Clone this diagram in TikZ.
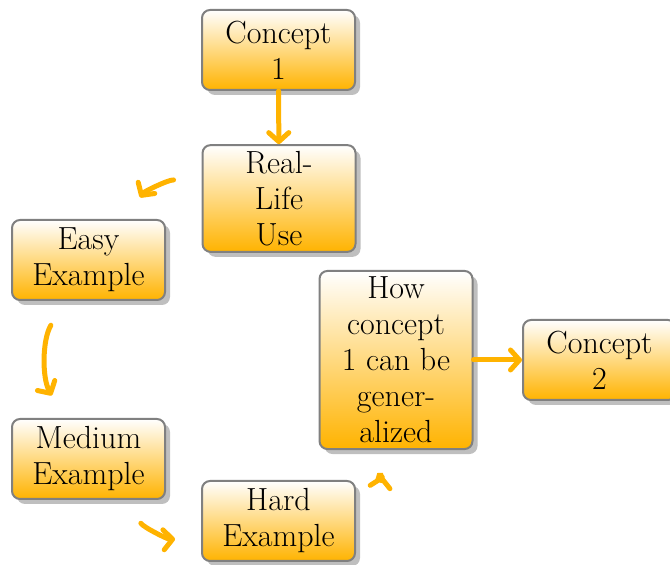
\documentclass[tikz,border=0pt]{standalone}
\usepackage{tikz}
\usetikzlibrary{arrows.meta,shadows}

\definecolor{amber}{RGB}{255,179,0}
\definecolor{boxline}{RGB}{128,128,128}

\tikzset{
  module/.style={draw=boxline, line width=1pt, rounded corners=4pt,
    top color=white, bottom color=amber, align=center,
    font=\fontsize{16}{18}\selectfont,
    minimum width=76.5pt, minimum height=40pt, inner sep=3pt,
    drop shadow={fill=black!25, opacity=1, shadow xshift=2.5pt, shadow yshift=-2.5pt}},
  flow/.style={draw=amber, line width=2.5pt, line cap=round,
    -{Straight Barb[length=4.5pt,width=10pt,line cap=round,line join=round]}},
  around/.style={flow, bend right=30, shorten <=14pt, shorten >=13pt}
}

\begin{document}
\begin{tikzpicture}[x=0.5pt,y=-0.5pt]
\useasboundingbox (0,0) rectangle (670,565);

% Modules
\node[module] (concA) at (278.5,50) {Concept\\1};
\node[module] (reallife) at (279,198.5) {Real-\\Life\\Use};
\node[module] (easy) at (88.5,260) {Easy\\Example};
\node[module] (medium) at (88.5,459) {Medium\\Example};
\node[module] (hard) at (278.5,521) {Hard\\Example};
\node[module] (general) at (396,360) {How\\concept\\1 can be\\gener-\\alized};
\node[module] (concB) at (599.5,360) {Concept\\2};

% Straight arrows
\draw[flow] (concA) -- (reallife);
\draw[flow] (general) -- (concB);

% Circular arrows
\draw[around] (reallife) to (easy);
\draw[around] (easy) to (medium);
\draw[around] (medium) to (hard);
\draw[around] (hard) to (general);

\end{tikzpicture}
\end{document}
